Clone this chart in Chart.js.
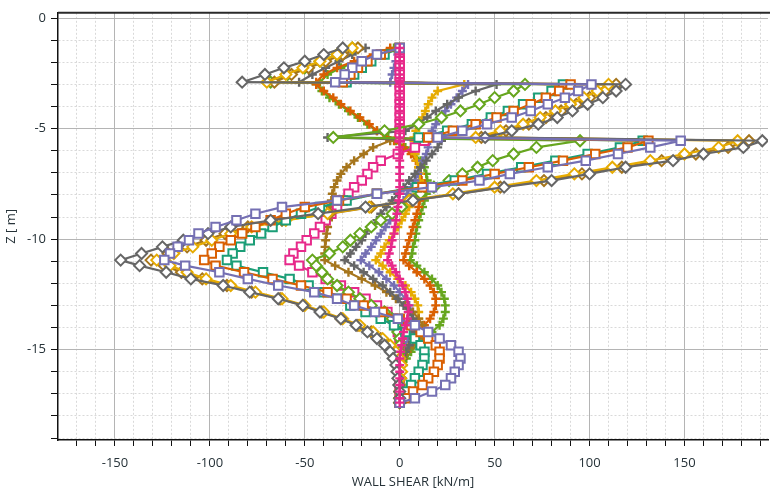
<!DOCTYPE html>
<html>
<head>
<meta charset="utf-8">
<script src="https://cdn.jsdelivr.net/npm/chart.js@4.4.1/dist/chart.umd.min.js"></script>
<style>
  html, body { margin: 0; padding: 0; background: #fff; }
  #wrap { width: 776px; height: 493px; }
</style>
</head>
<body>
<div id="wrap"><canvas id="shearChart" width="776" height="493"></canvas></div>
<script>
// depth of every result point (m), shared by all stages
const depth = [
  -1.35, -1.65, -1.95, -2.25, -2.55, -2.9,
  -3.0, -3.3, -3.6, -3.9, -4.2, -4.5, -4.8, -5.1, -5.4,
  -5.55, -5.85, -6.15, -6.45, -6.75, -7.05, -7.35, -7.65, -7.95, -8.25,
  -8.55, -8.85, -9.15, -9.45, -9.75, -10.05, -10.35, -10.65, -10.95,
  -11.2, -11.5, -11.8, -12.1, -12.4, -12.7, -13.0, -13.3, -13.6, -13.9,
  -14.2, -14.5, -14.8, -15.1, -15.4, -15.7, -16.0, -16.3, -16.6, -16.9, -17.2, -17.4
];

// wall shear (kN/m) per stage, one value per depth
const grayDiamond = [
  -30, -40, -50, -61, -71, -83,
  119, 114, 107, 99, 91, 83, 73, 59, 45,
  191, 181, 160, 144, 119, 100, 80, 55, 31, 7,
  -18, -43, -68, -89, -101, -114, -125, -136, -147,
  -137, -123, -110, -93, -79, -64, -51, -42, -31, -23,
  -17, -12, -8, -5, -3.5, -2, -1.5, -1, -0.5, 0, 0, 0
];
const yellowDiamond = [
  -25, -33, -42, -51, -60, -70,
  110, 104, 97, 90, 82, 74, 65, 53, 40,
  178, 168, 150, 132, 112, 92, 72, 50, 28, 5,
  -16, -38, -60, -78, -89, -99, -109, -119, -128,
  -121, -112, -102, -89, -76, -62, -50, -40, -30, -21,
  -14, -9, -5, -2, 0, 1, 1, 0.5, 0, 0, 0, 0
];
const brownDiamond = [
  -22, -30, -39, -48, -57, -66,
  114, 108, 100, 93, 85, 77, 68, 56, 43,
  184, 173, 156, 138, 117, 96, 76, 53, 31, 6,
  -15, -37, -62, -80, -92, -102, -112, -122, -131,
  -124, -115, -104, -91, -78, -63, -51, -41, -31, -22,
  -15, -10, -6, -3, -1, 0, 0.5, 0.5, 0, 0, 0, 0
];
const purpleSquare = [
  0, -12, -20, -25, -29, -34,
  101, 94, 87, 78, 69, 59, 46, 33, 20,
  148, 132, 115, 98, 78, 58, 42, 17, -12, -33,
  -62, -76, -86, -97, -106, -111, -117, -121, -124,
  -113, -95, -80, -64, -45, -33, -24, -13, -1, 8,
  15, 21, 27, 31, 32, 31, 29, 27, 24, 17, 8, 0
];
const orangeSquare = [
  0, -10, -17, -22, -26, -30,
  90, 84, 77, 69, 60, 51, 40, 28, 15,
  131, 120, 103, 86, 68, 50, 33, 12, -12, -32,
  -50, -60, -68, -76, -83, -89, -95, -99, -103,
  -97, -82, -67, -52, -38, -28, -19, -9, 0, 6,
  11, 15, 19, 21, 21, 20, 18, 15, 12, 7, 3, 0
];
const tealSquare = [
  0, -8, -15, -20, -24, -28,
  86, 80, 73, 65, 57, 48, 38, 25, 10,
  128, 116, 99, 82, 64, 46, 29, 9, -12, -28,
  -42, -52, -60, -67, -73, -79, -84, -88, -91,
  -86, -72, -58, -48, -40, -32, -26, -18, -10, -3,
  3, 8, 11, 13, 13, 12, 10, 8, 6, 3, 1, 0
];
const greenDiamond = [
  -25, -33, -42, -50, -59, -68,
  66, 60, 50, 42, 32, 22, 10, -8, -35,
  95, 72, 60, 49, 41, 33, 26, 18, 11, 5,
  1, -4, -10, -15, -21, -26, -30, -37, -46,
  -44, -41, -38, -33, -27, -21, -15, -8, -4, -2,
  -1, 0, 0, 0, 0, 0, 0, 0, 0, 0, 0, 0
];
const pinkSquare = [
  0, 0, 0, 0, 0, 0,
  0, 0, 0, 0, 0, 0, 0, 0, 0,
  13, 8, -1, -10, -14, -17, -20, -24, -27, -30,
  -33, -36, -39, -42, -45, -49, -52, -56, -58,
  -53, -46, -39, -31, -24, -18, -12, -6.5, -3.5, -2,
  -1, 0, 0, 0, 0, 0, 0, 0, 0, 0, 0, 0
];
const pinkCross = [
  0, 0, 0, 0, 0, 0,
  0, 0, 0, 0, 0, 0, 0, 0, 0,
  0, 0, 0, 0, 0, 0, 0, 0, 0, -0.5,
  -1, -1.5, -2, -2.5, -3, -4, -4.5, -5.5, -6.4,
  -4, -2, 0, 1.5, 3, 4, 4.5, 4.5, 4, 3,
  2, 1.5, 1, 0.5, 0, 0, 0, 0, 0, 0, 0, 0
];
const brownCross = [
  0, 0, 0, 0, 0, 0,
  0, 0, 0, 0, 0, 0, 0, 0, 0,
  -5, -14, -19, -24, -28, -31, -33, -34.5, -35.5, -36,
  -36.5, -37, -37.5, -38, -38.5, -39, -39.3, -39.5, -39.5,
  -34, -27, -20, -13, -7, -2, 3, 7, 10, 12,
  12, 10, 7, 4, 2, 1, 0.5, 0, 0, 0, 0, 0
];
const grayCross = [
  -18, -25, -32, -39, -46, -53,
  51, 40, 31, 25, 19, 14.5, 9, 3, -38,
  22, 20, 17, 14, 11, 8, 5, 2, -1, -4,
  -7, -10, -12, -15, -18, -20, -23, -26, -29,
  -24, -19, -14, -9, -5, -1, 2, 5, 7, 8,
  8, 7, 5, 3, 1.5, 0.5, 0, 0, 0, 0, 0, 0
];
const purpleCross = [
  0, -1, -2, -3, -4, -5,
  36, 33, 30, 27, 24, 22, 19, 17, 16,
  16, 15, 14, 12, 11, 9.5, 8, 6, 4, 2,
  0, -2.5, -5, -7.5, -10, -12.5, -15, -18, -20.5,
  -16, -11, -7, -3, 0, 3, 5, 6.5, 7, 7,
  6, 4.5, 3, 2, 1, 0, 0, 0, 0, 0, 0, 0
];
const yellowCross = [
  0, 0, 0, 0, 0, 0,
  34, 20, 17, 15, 13.5, 12, 10, 8.5, 7.5,
  7.5, 7.5, 8, 9, 10, 10.5, 10.5, 10, 9, 7,
  5, 3, 1, -1, -3, -5.5, -8, -10, -12.6,
  -9, -5, -1, 3, 6, 8, 9.5, 10, 10, 9,
  7.5, 5.5, 3.5, 2, 1, 0, 0, 0, 0, 0, 0, 0
];
const orangeCross = [
  -5, -14, -24, -33, -40, -44,
  -44, -40, -35, -31, -26, -21, -16, -12, -7,
  -3, 2, 6, 8.5, 10, 11, 11.5, 11.5, 11, 10.5,
  10, 9, 8, 7, 6, 5, 4, 3, 2,
  5, 9, 13, 16, 18, 19, 19, 18, 16, 13,
  10, 7, 4.5, 2.5, 1, 0, 0, 0, 0, 0, 0, 0
];
const greenCross = [
  -3, -12, -22, -31, -38, -42,
  -44, -41, -37, -32, -27, -22, -17, -12, -6,
  -2, 3, 8, 11, 13, 14, 14.5, 14.5, 14, 13,
  12, 11, 10, 9, 8.5, 8, 7, 6.5, 5.6,
  9, 13, 17, 20, 22, 23.5, 24, 24, 23, 21,
  17, 13, 9, 6, 3.5, 2, 1, 0.5, 0, 0, 0, 0
];

const xTickLabels = [-150, -100, -50, 0, 50, 100, 150];
const yTickLabels = [0, -5, -10, -15];

const TEAL = "#1b9e77", ORANGE = "#d95f02", PURPLE = "#7570b3", PINK = "#e7298a";
const GREEN = "#66a61e", YELLOW = "#e6ab02", BROWN = "#a6761d", GRAY = "#666666";

// first entry is drawn on top
const stages = [
  { values: pinkCross, color: PINK, marker: "cross" },
  { values: purpleSquare, color: PURPLE, marker: "rect" },
  { values: grayDiamond, color: GRAY, marker: "rectRot" },
  { values: orangeSquare, color: ORANGE, marker: "rect" },
  { values: tealSquare, color: TEAL, marker: "rect" },
  { values: yellowDiamond, color: YELLOW, marker: "rectRot" },
  { values: brownDiamond, color: BROWN, marker: "rectRot" },
  { values: greenDiamond, color: GREEN, marker: "rectRot" },
  { values: pinkSquare, color: PINK, marker: "rect" },
  { values: grayCross, color: GRAY, marker: "cross" },
  { values: brownCross, color: BROWN, marker: "cross" },
  { values: purpleCross, color: PURPLE, marker: "cross" },
  { values: yellowCross, color: YELLOW, marker: "cross" },
  { values: orangeCross, color: ORANGE, marker: "cross" },
  { values: greenCross, color: GREEN, marker: "cross" },
];

const markerRadius = { rect: 6, rectRot: 5.5, cross: 4.5 };

const datasets = stages.map((s, i) => ({
  data: s.values.map((v, k) => ({ x: v, y: depth[k] })),
  showLine: true,
  borderColor: s.color,
  borderWidth: 2.2,
  pointStyle: s.marker,
  pointRadius: markerRadius[s.marker],
  pointBorderWidth: s.marker === "cross" ? 2.4 : 2,
  pointBorderColor: s.color,
  pointBackgroundColor: "#ffffff",
  order: i,
}));

const labelColor = "#263238";
const fontFamily = "'Open Sans', 'Noto Sans', sans-serif";

function stepTicks(lo, hi, step) {
  const out = [];
  for (let v = lo; v <= hi + 1e-9; v += step) out.push({ value: v });
  return out;
}

function gridColor(isMajor) {
  return isMajor ? "#b4b4b4" : "#d9d9d9";
}

// dark frame line along the top of the plot
const topFrame = {
  id: "topFrame",
  afterDraw(chart) {
    const { ctx, chartArea } = chart;
    ctx.save();
    ctx.strokeStyle = "#2a2a2a";
    ctx.lineWidth = 2;
    ctx.beginPath();
    ctx.moveTo(chartArea.left, chartArea.top);
    ctx.lineTo(chartArea.right + 2, chartArea.top);
    ctx.stroke();
    ctx.restore();
  },
};

new Chart(document.getElementById("shearChart"), {
  type: "scatter",
  data: { datasets },
  options: {
    responsive: false,
    animation: false,
    devicePixelRatio: 1,
    layout: { padding: { top: 7, right: 2, left: 0, bottom: 0 } },
    plugins: { legend: { display: false }, tooltip: { enabled: false } },
    scales: {
      x: {
        type: "linear",
        min: -180,
        max: 194,
        afterFit: (s) => { s.height = 53; },
        afterBuildTicks: (s) => { s.ticks = stepTicks(-170, 190, 10); },
        ticks: {
          autoSkip: false,
          maxRotation: 0,
          padding: 9,
          color: labelColor,
          font: { family: fontFamily, size: 13 },
          callback: (v) => (xTickLabels.includes(v) ? String(v) : ""),
        },
        grid: {
          color: (c) => gridColor(c.tick && c.tick.value % 50 === 0),
          lineWidth: 1,
          tickLength: 6,
          tickColor: "#111",
          tickWidth: 1,
        },
        border: {
          color: "#111",
          width: 1.5,
          dash: (c) => (c.tick && c.tick.value % 50 !== 0 ? [2, 2] : []),
        },
        title: {
          display: true,
          text: "WALL SHEAR [kN/m]",
          color: labelColor,
          font: { family: fontFamily, size: 13 },
          padding: { top: 2, bottom: 3 },
        },
      },
      y: {
        type: "linear",
        min: -19.09,
        max: 0.24,
        afterFit: (s) => { s.width = 58; },
        afterBuildTicks: (s) => { s.ticks = stepTicks(-19, 0, 1); },
        ticks: {
          autoSkip: false,
          padding: 5,
          color: labelColor,
          font: { family: fontFamily, size: 13 },
          callback: (v) => (yTickLabels.includes(Math.round(v)) && Math.abs(v % 5) < 1e-9 ? String(v) : ""),
        },
        grid: {
          color: (c) => gridColor(c.tick && c.tick.value % 5 === 0),
          lineWidth: 1,
          tickLength: 7,
          tickColor: "#111",
          tickWidth: 1,
        },
        border: {
          color: "#111",
          width: 1.5,
          dash: (c) => (c.tick && c.tick.value % 5 !== 0 ? [2, 2] : []),
        },
        title: {
          display: true,
          text: "Z [ m]",
          color: labelColor,
          font: { family: fontFamily, size: 13 },
          padding: { top: 3, bottom: 2 },
        },
      },
    },
  },
  plugins: [topFrame],
});
</script>
</body>
</html>
